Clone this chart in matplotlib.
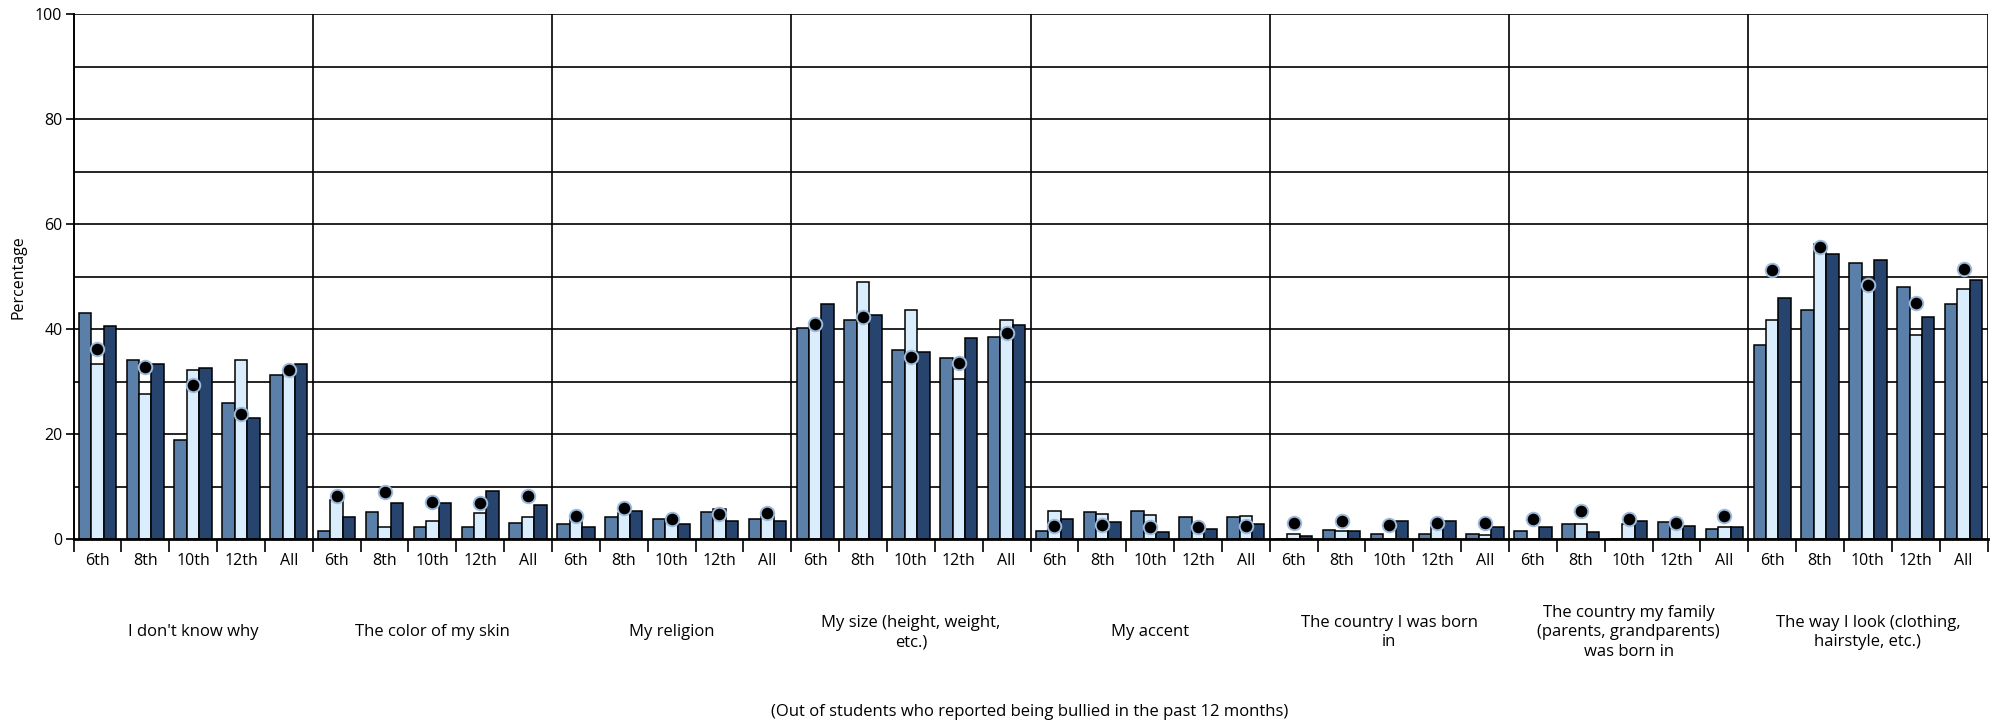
import numpy as np
import matplotlib
matplotlib.use("Agg")
import matplotlib.pyplot as plt
from matplotlib.transforms import blended_transform_factory

plt.rcParams['font.family'] = ['Open Sans', 'DejaVu Sans']

categories = [
    "I don't know why",
    "The color of my skin",
    "My religion",
    "My size (height, weight,\netc.)",
    "My accent",
    "The country I was born\nin",
    "The country my family\n(parents, grandparents)\nwas born in",
    "The way I look (clothing,\nhairstyle, etc.)",
]
grades = ["6th", "8th", "10th", "12th", "All"]

# three bar series (medium, light, dark) and the dot series, 5 grades per category
series_mid = [
    43.1, 34.1, 18.9, 26.0, 31.2,
    1.6, 5.2, 2.3, 2.3, 3.0,
    2.9, 4.2, 3.9, 5.2, 3.9,
    40.2, 41.8, 36.0, 34.4, 38.5,
    1.6, 5.2, 5.4, 4.2, 4.1,
    0.0, 1.8, 0.9, 0.9, 0.9,
    1.6, 2.9, 0.0, 3.2, 1.9,
    37.0, 43.7, 52.5, 48.0, 44.8,
]
series_light = [
    33.4, 27.6, 32.2, 34.1, 31.8,
    7.5, 2.2, 3.5, 4.9, 4.2,
    4.0, 4.9, 3.5, 5.8, 4.5,
    40.3, 48.9, 43.7, 30.4, 41.8,
    5.4, 4.8, 4.5, 2.5, 4.4,
    0.9, 1.5, 0.0, 2.2, 0.8,
    0.0, 2.9, 2.9, 2.5, 2.2,
    41.8, 56.1, 49.5, 38.9, 47.7,
]
series_dark = [
    40.6, 33.4, 32.5, 23.1, 33.4,
    4.2, 6.8, 6.8, 9.1, 6.5,
    2.2, 5.4, 2.9, 3.5, 3.5,
    44.7, 42.7, 35.6, 38.2, 40.8,
    3.8, 3.2, 1.3, 1.9, 2.8,
    0.6, 1.6, 3.5, 3.5, 2.2,
    2.2, 1.3, 3.5, 2.5, 2.2,
    46.0, 54.2, 53.2, 42.2, 49.3,
]
series_dot = [
    36.1, 32.7, 29.4, 23.8, 32.1,
    8.2, 8.9, 7.1, 6.9, 8.1,
    4.4, 6.0, 3.9, 4.8, 4.9,
    40.9, 42.3, 34.6, 33.5, 39.2,
    2.4, 2.7, 2.2, 2.2, 2.5,
    3.1, 3.4, 2.7, 3.0, 3.1,
    3.8, 5.4, 3.9, 3.0, 4.4,
    51.3, 55.6, 48.4, 45.0, 51.5,
]

n_cat = len(categories)
n_gr = len(grades)
x = np.arange(n_cat * n_gr)
w = 0.26

fig = plt.figure(figsize=(20.01, 7.24), dpi=100)
ax = fig.add_axes([73.5 / 2001, 185 / 724, 1914 / 2001, 525 / 724])

ax.bar(x - w, series_mid, w, color='#5a7fa8', edgecolor='black', linewidth=1.1, zorder=3)
ax.bar(x, series_light, w, color='#d9edfc', edgecolor='black', linewidth=1.1, zorder=3)
ax.bar(x + w, series_dark, w, color='#27446e', edgecolor='black', linewidth=1.1, zorder=3)
ax.scatter(x, series_dot, s=95, color='black', edgecolor='#9dbbdc', linewidth=1.4, zorder=4)

ax.set_xlim(-0.5, n_cat * n_gr - 0.5)
ax.set_ylim(0, 100)

# grid every 10, category separators
for v in range(10, 101, 10):
    ax.axhline(v, color='black', linewidth=1.2, zorder=1)
for c in range(1, n_cat + 1):
    ax.axvline(c * n_gr - 0.5, color='black', linewidth=1.2, zorder=1)

ax.set_yticks(range(0, 101, 20))
ax.tick_params(axis='y', length=6, width=1.2, labelsize=11.5, pad=2)

ax.set_xticks(x)
ax.set_xticklabels(grades * n_cat, fontsize=11.5)
ax.set_xticks(np.arange(n_cat * n_gr + 1) - 0.5, minor=True)
ax.tick_params(axis='x', which='major', length=0, pad=10)
ax.tick_params(axis='x', which='minor', length=9, width=1.2, direction='out')

for s in ['top', 'right']:
    ax.spines[s].set_visible(False)
ax.spines['left'].set_linewidth(1.4)
ax.spines['bottom'].set_linewidth(2.0)
ax.spines['bottom'].set_zorder(5)

trans = blended_transform_factory(ax.transData, ax.transAxes)
for i, cat in enumerate(categories):
    ax.text(i * n_gr + 2, -0.178, cat, transform=trans, ha='center', va='center',
            fontsize=12, linespacing=1.3)

fig.text(18 / 2001, 1 - 277 / 724, 'Percentage', rotation=90, ha='center', va='center',
         fontsize=11.5)
fig.text(1030 / 2001, 1 - 712 / 724,
         '(Out of students who reported being bullied in the past 12 months)',
         ha='center', va='center', fontsize=12)

fig.savefig('out.png', dpi=100)
